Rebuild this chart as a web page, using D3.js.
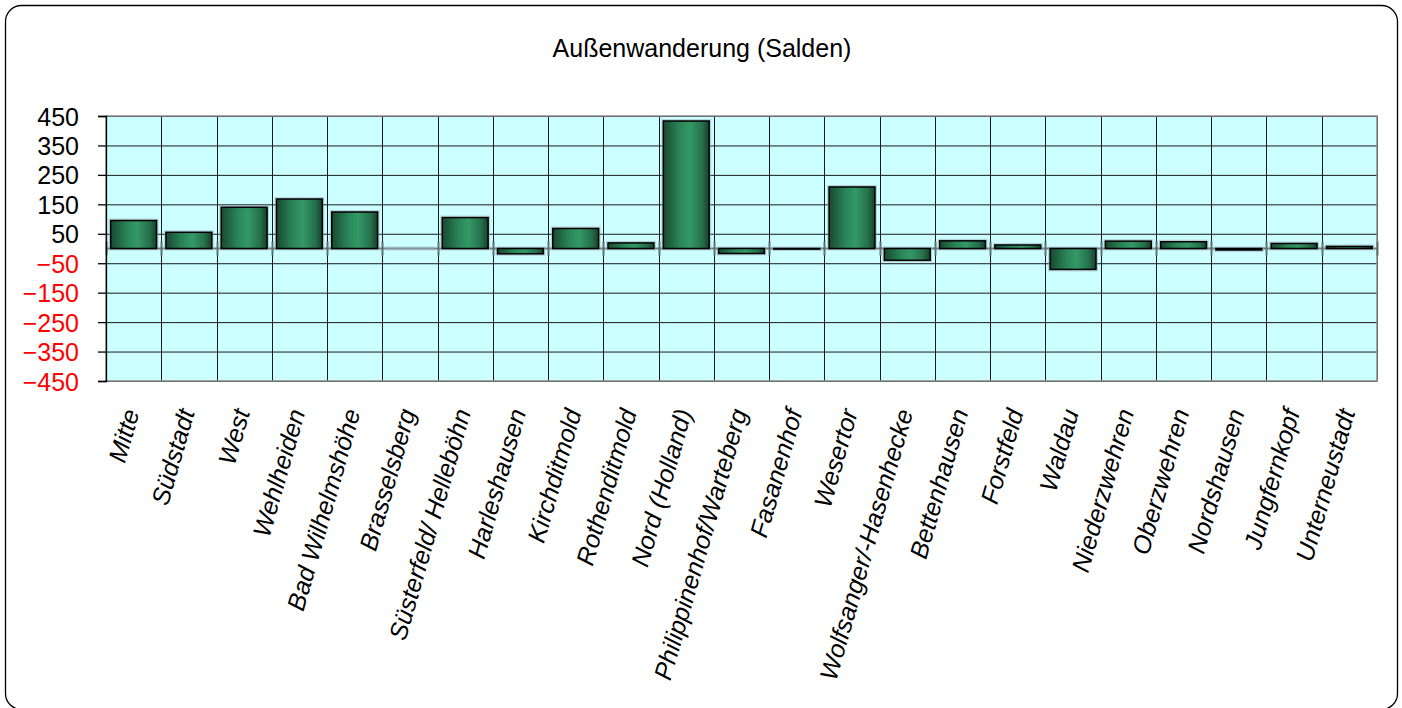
<!DOCTYPE html>
<html>
<head>
<meta charset="utf-8">
<script src="https://cdn.jsdelivr.net/npm/d3@7"></script>
<style>
  body { margin: 0; background: #fff; }
  text { font-family: Arial, "Liberation Sans", sans-serif; }
</style>
</head>
<body>
<div id="chart"></div>
<script>
var titel = "Außenwanderung (Salden)";

var stadtteile = ["Mitte", "Südstadt", "West", "Wehlheiden", "Bad Wilhelmshöhe", "Brasselsberg",
  "Süsterfeld/ Helleböhn", "Harleshausen", "Kirchditmold", "Rothenditmold", "Nord (Holland)",
  "Philippinenhof/Warteberg", "Fasanenhof", "Wesertor", "Wolfsanger/-Hasenhecke", "Bettenhausen",
  "Forstfeld", "Waldau", "Niederzwehren", "Oberzwehren", "Nordshausen", "Jungfernkopf", "Unterneustadt"];

var salden = [95, 55, 140, 168, 124, 0, 105, -18, 68, 19, 433, -17, -2, 209, -40, 26, 12, -71, 25, 23, -5, 17, 7];

var yticks = [450, 350, 250, 150, 50, -50, -150, -250, -350, -450];

var svgWidth = 1402, svgHeight = 708;
var margin = {top: 116, left: 106, right: 25, bottom: 327};
var x0 = margin.left, x1 = svgWidth - margin.right;
var y0 = margin.top, y1 = svgHeight - margin.bottom;

var svg = d3.select("#chart").append("svg")
  .attr("width", svgWidth)
  .attr("height", svgHeight);

var defs = svg.append("defs");
var grad = defs.append("linearGradient").attr("id", "barfill")
  .attr("x1", "0%").attr("x2", "100%").attr("y1", "0%").attr("y2", "0%");
grad.append("stop").attr("offset", "0%").attr("stop-color", "#18492f");
grad.append("stop").attr("offset", "35%").attr("stop-color", "#2a8458");
grad.append("stop").attr("offset", "58%").attr("stop-color", "#339966");
grad.append("stop").attr("offset", "85%").attr("stop-color", "#256f4a");
grad.append("stop").attr("offset", "100%").attr("stop-color", "#163f2b");

// outer frame
svg.append("rect")
  .attr("x", 5.5).attr("y", 5.5)
  .attr("width", 1392).attr("height", 704)
  .attr("rx", 16).attr("ry", 16)
  .attr("fill", "none").attr("stroke", "#000").attr("stroke-width", 1.3);

svg.append("text")
  .attr("x", 702).attr("y", 57)
  .attr("text-anchor", "middle")
  .style("font-size", "25px")
  .text(titel);

var xscale = d3.scaleBand()
  .domain(stadtteile)
  .range([x0, x1])
  .paddingInner(0.17)
  .paddingOuter(0.085);

var yscale = d3.scaleLinear()
  .domain([-450, 450])
  .range([y1, y0]);

// plot area
svg.append("rect")
  .attr("x", x0).attr("y", y0)
  .attr("width", x1 - x0).attr("height", y1 - y0)
  .attr("fill", "#ccffff");

// horizontal gridlines
svg.selectAll(".hgrid")
  .data(yticks)
  .enter().append("line")
  .attr("x1", x0).attr("x2", x1)
  .attr("y1", d => yscale(d) + 0.5).attr("y2", d => yscale(d) + 0.5)
  .attr("stroke", "#1a1a1a").attr("stroke-width", 1);

// vertical gridlines at category boundaries
var step = xscale.step();
var grenzen = stadtteile.map(d => xscale(d) - step * xscale.paddingInner() / 2);
grenzen.push(x1);
svg.selectAll(".vgrid")
  .data(grenzen)
  .enter().append("line")
  .attr("x1", d => Math.round(d) + 0.5).attr("x2", d => Math.round(d) + 0.5)
  .attr("y1", y0).attr("y2", y1)
  .attr("stroke", "#1a1a1a").attr("stroke-width", 1);

// plot border
svg.append("rect")
  .attr("x", x0).attr("y", y0)
  .attr("width", x1 - x0).attr("height", y1 - y0)
  .attr("fill", "none").attr("stroke", "#8c8c8c").attr("stroke-width", 1.5);

// zero axis with ticks
svg.append("line")
  .attr("x1", x0).attr("x2", x1)
  .attr("y1", yscale(0)).attr("y2", yscale(0))
  .attr("stroke", "#6f7f7f").attr("stroke-width", 2);
svg.selectAll(".xtick")
  .data(grenzen)
  .enter().append("line")
  .attr("x1", d => Math.round(d) + 0.5).attr("x2", d => Math.round(d) + 0.5)
  .attr("y1", yscale(0) - 7).attr("y2", yscale(0) + 7)
  .attr("stroke", "#5f6f6f").attr("stroke-width", 2);

// bars
svg.selectAll(".shadow")
  .data(salden)
  .enter().append("rect")
  .attr("x", (d, i) => xscale(stadtteile[i]) - 1)
  .attr("y", d => Math.min(yscale(d), yscale(0)) - 1)
  .attr("width", xscale.bandwidth() + 2)
  .attr("height", d => Math.abs(yscale(d) - yscale(0)) + 2)
  .attr("fill", "none").attr("stroke", "#9ab")
  .attr("stroke-width", 2).attr("opacity", 0.5);

svg.selectAll(".bar")
  .data(salden)
  .enter().append("rect")
  .attr("x", (d, i) => xscale(stadtteile[i]))
  .attr("y", d => Math.min(yscale(d), yscale(0)))
  .attr("width", xscale.bandwidth())
  .attr("height", d => Math.abs(yscale(d) - yscale(0)))
  .attr("fill", "url(#barfill)")
  .attr("stroke", "#000").attr("stroke-width", 1.5);

// y axis
var yAxis = d3.axisLeft(yscale).tickValues(yticks).tickSize(8).tickPadding(19);
var gy = svg.append("g")
  .attr("transform", "translate(" + x0 + ",0)")
  .call(yAxis);
gy.select(".domain").attr("stroke", "#000").attr("stroke-width", 1.3);
gy.selectAll(".tick line").attr("stroke", "#000").attr("stroke-width", 1.3);
gy.selectAll("text")
  .style("font-size", "25px")
  .style("font-family", "Arial, 'Liberation Sans', sans-serif")
  .attr("fill", d => d < 0 ? "#ff0000" : "#000")
  .attr("dy", "0.36em");

// category labels
svg.selectAll(".xlabel")
  .data(stadtteile)
  .enter().append("text")
  .attr("transform", d => "translate(" + (xscale(d) + xscale.bandwidth() / 2 + 6) + ",412) rotate(-74)")
  .attr("text-anchor", "end")
  .style("font-size", "25px")
  .style("font-style", "italic")
  .text(d => d);
</script>
</body>
</html>
